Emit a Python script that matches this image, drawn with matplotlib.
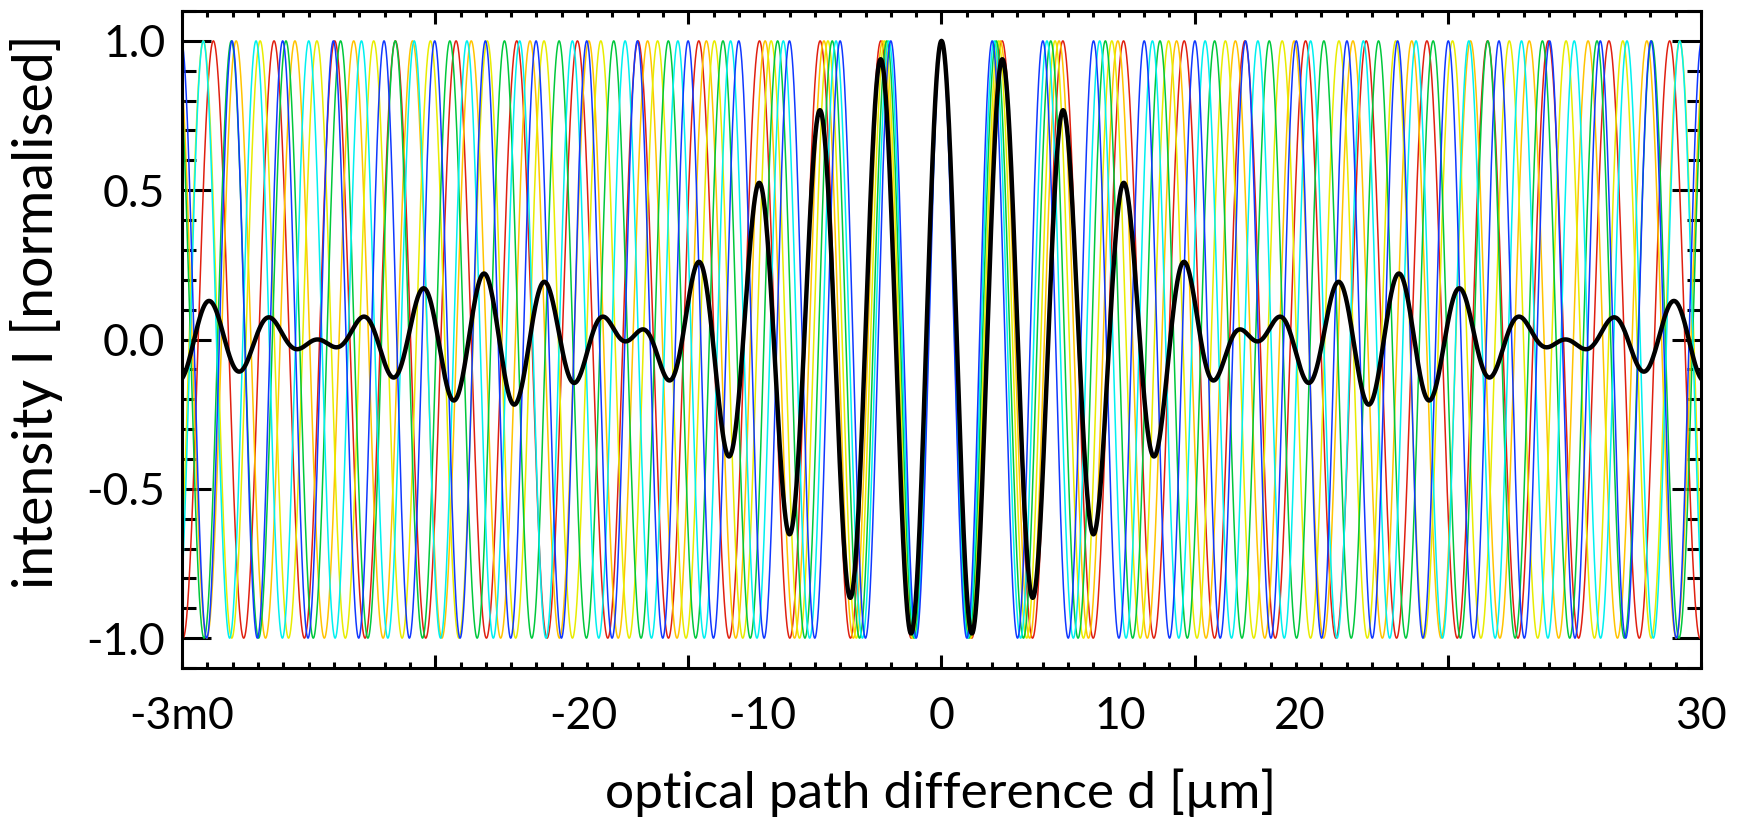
import numpy as np
import matplotlib
matplotlib.use("Agg")
import matplotlib.pyplot as plt
from matplotlib.ticker import MultipleLocator, FixedLocator, NullFormatter
import matplotlib.transforms as mtransforms

plt.rcParams['font.family'] = ['Lato', 'DejaVu Sans']

# ---- data ----
# wavelengths (in axis units) of the individual coloured fringe patterns
color_names = ["red", "orange", "yellow", "green", "cyan", "blue"]
color_wavelengths = [2.397, 2.322, 2.243, 2.158, 2.083, 2.002]
color_values = ["#e02010", "#ffc400", "#e8ec00", "#00c83c", "#00f0f0", "#1038ff"]

# wavelengths whose mean gives the black (summed, normalised) interferogram
black_wavelengths = [2.6478, 2.6011, 2.5561, 2.5126, 2.4705, 2.4298,
                     2.3905, 2.3524, 2.3155, 2.2797, 2.2450, 2.2114]

x_min, x_max = -30.0, 30.0
y_min, y_max = -1.1, 1.1

xtick_label_pos = [-30.0, -14.142, -7.071, 0.0, 7.071, 14.142, 30.0]
xtick_labels = ["-3m0", "-20", "-10", "0", "10", "20", "30"]
x_major_ticks = [-20, -10, 0, 10, 20]
ytick_pos = [-1.0, -0.5, 0.0, 0.5, 1.0]
ytick_labels = ["-1.0", "-0.5", "0.0", "0.5", "1.0"]

xlabel = "optical path difference d [µm]"
ylabel = "intensity I [normalised]"

# ---- figure ----
fig = plt.figure(figsize=(17.44, 8.17), dpi=100)
ax = fig.add_axes([0.1044, 0.1824, 0.8709, 0.8041])

d = np.linspace(x_min, x_max, 8001)
for lam, col in zip(color_wavelengths, color_values):
    ax.plot(d, np.cos(2 * np.pi * d / lam), color=col, lw=1.1, zorder=2)

black = np.mean([np.cos(2 * np.pi * d / lam) for lam in black_wavelengths], axis=0)
ax.plot(d, black, color="black", lw=3.2, zorder=3)

ax.set_xlim(x_min, x_max)
ax.set_ylim(y_min, y_max)

for s in ax.spines.values():
    s.set_linewidth(2.2)

# y ticks
ax.yaxis.set_major_locator(FixedLocator(ytick_pos))
ax.set_yticklabels(ytick_labels)
ax.yaxis.set_minor_locator(MultipleLocator(0.1))
ax.tick_params(axis='y', which='major', direction='in', length=21, width=2.2,
               left=True, right=True, labelsize=32, pad=12)
ax.tick_params(axis='y', which='minor', direction='in', length=10, width=2.2,
               left=True, right=True)

# x ticks
ax.xaxis.set_major_locator(FixedLocator(x_major_ticks))
ax.xaxis.set_major_formatter(NullFormatter())
ax.xaxis.set_minor_locator(MultipleLocator(1))
ax.tick_params(axis='x', which='major', direction='in', length=9.5, width=2.2,
               top=True, bottom=True)
ax.tick_params(axis='x', which='minor', direction='in', length=4.5, width=2.2,
               top=True, bottom=True)

trans = mtransforms.blended_transform_factory(ax.transData, ax.transAxes)
for p, lab in zip(xtick_label_pos, xtick_labels):
    ax.text(p, -0.043, lab, transform=trans, ha='center', va='top', fontsize=32)

fig.text(0.5396, 0.03, xlabel, ha='center', va='center', fontsize=37)
fig.text(0.021, 0.619, ylabel, ha='center', va='center', rotation=90, fontsize=40)

fig.savefig("out.png", dpi=100)
